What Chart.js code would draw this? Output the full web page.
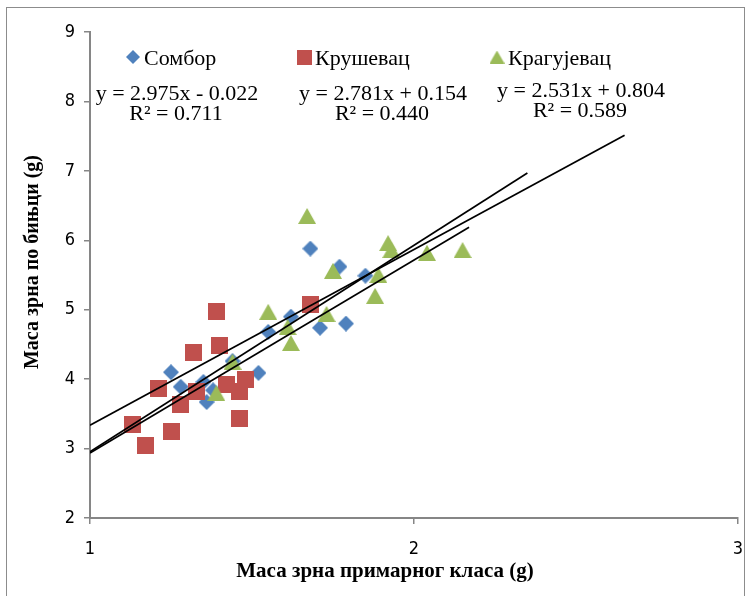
<!DOCTYPE html>
<html>
<head>
<meta charset="utf-8">
<script src="https://cdn.jsdelivr.net/npm/chart.js@4/dist/chart.umd.min.js"></script>
<style>
  html, body { margin: 0; padding: 0; background: #fff; }
  #wrap { width: 750px; height: 596px; position: relative; }
</style>
</head>
<body>
<div id="wrap"><canvas id="c"></canvas></div>
<script>
// Series names (legend order)
const seriesNames = ['Сомбор', 'Крушевац', 'Крагујевац'];

// Сомбор
const somborX = [1.25, 1.28, 1.35, 1.38, 1.36, 1.44, 1.52, 1.55, 1.62, 1.68, 1.71, 1.77, 1.79, 1.85];
const somborY = [4.10, 3.89, 3.96, 3.84, 3.67, 4.26, 4.09, 4.68, 4.90, 5.88, 4.74, 5.62, 4.80, 5.49];

// Крушевац
const krusevacX = [1.13, 1.17, 1.21, 1.25, 1.28, 1.32, 1.33, 1.39, 1.40, 1.42, 1.46, 1.46, 1.48, 1.68];
const krusevacY = [3.34, 3.04, 3.86, 3.25, 3.64, 4.38, 3.82, 4.97, 4.48, 3.92, 3.82, 3.43, 4.00, 5.08];

// Крагујевац
const kragujevacX = [1.39, 1.44, 1.55, 1.61, 1.62, 1.67, 1.73, 1.75, 1.88, 1.89, 1.92, 1.93, 2.04, 2.15];
const kragujevacY = [3.80, 4.25, 4.97, 4.75, 4.52, 6.35, 4.94, 5.56, 5.20, 5.50, 5.96, 5.86, 5.82, 5.86];

// Linear trend lines: y = slope * x + intercept
const trendSlope = [2.975, 2.781, 2.531];
const trendIntercept = [-0.022, 0.154, 0.804];
const trendRSquared = [0.711, 0.440, 0.589];
const trendXStart = [1, 1, 1];
const trendXEnd = [2.35, 2.17, 2.65];

// Axis ranges / ticks
const xTicks = [1, 2, 3];
const yTicks = [2, 3, 4, 5, 6, 7, 8, 9];

const colors = ['#4F81BD', '#C0504D', '#9BBB59'];

function toPoints(xs, ys) { return xs.map((x, i) => ({ x: x, y: ys[i] })); }

// Marker images, centred on their bounding box
function markerCanvas(shape, color, w, h) {
  const c = document.createElement('canvas');
  c.width = w; c.height = h;
  const g = c.getContext('2d');
  g.fillStyle = color;
  g.beginPath();
  if (shape === 'diamond') {
    g.moveTo(w / 2, 0); g.lineTo(w, h / 2); g.lineTo(w / 2, h); g.lineTo(0, h / 2);
  } else if (shape === 'square') {
    g.rect(0, 0, w, h);
  } else {
    g.moveTo(w / 2, 0); g.lineTo(w, h); g.lineTo(0, h);
  }
  g.closePath();
  g.fill();
  return c;
}

const pointMarkers = [
  markerCanvas('diamond', colors[0], 16, 16),
  markerCanvas('square', colors[1], 17, 17),
  markerCanvas('triangle', colors[2], 18, 16)
];
const legendMarkers = [
  markerCanvas('diamond', colors[0], 14, 14),
  markerCanvas('square', colors[1], 15, 15),
  markerCanvas('triangle', colors[2], 15, 13)
];

function fmtEq(i) {
  const b = trendIntercept[i];
  const sign = b < 0 ? ' - ' : ' + ';
  return 'y = ' + trendSlope[i].toFixed(3) + 'x' + sign + Math.abs(b).toFixed(3);
}
function fmtR2(i) { return 'R² = ' + trendRSquared[i].toFixed(3); }

const trendData = trendSlope.map((m, i) => [
  { x: trendXStart[i], y: m * trendXStart[i] + trendIntercept[i] },
  { x: trendXEnd[i], y: m * trendXEnd[i] + trendIntercept[i] }
]);

// Frame, legend, equations and axis titles
const decorations = {
  id: 'decorations',
  beforeDraw(chart) {
    const ctx = chart.ctx;
    ctx.save();
    ctx.fillStyle = '#fff';
    ctx.fillRect(0, 0, chart.width, chart.height);
    ctx.strokeStyle = '#8c8c8c';
    ctx.lineWidth = 1;
    ctx.strokeRect(6.5, 7.5, 738, 600);
    ctx.restore();
  },
  afterDraw(chart) {
    const ctx = chart.ctx;
    ctx.save();
    ctx.fillStyle = '#000';
    ctx.textBaseline = 'alphabetic';

    // legend
    const legendMarkerCx = [133, 304, 497];
    const legendTextX = [144, 315, 508];
    ctx.font = '22px "Liberation Serif", "Times New Roman", serif';
    ctx.textAlign = 'left';
    for (let i = 0; i < 3; i++) {
      const m = legendMarkers[i];
      ctx.drawImage(m, legendMarkerCx[i] - m.width / 2, 57 - m.height / 2);
      ctx.fillText(seriesNames[i], legendTextX[i], 65);
    }

    // trend equations
    const eqCx = [177, 383, 581];
    const eqBase = [100, 100, 97];
    ctx.textAlign = 'center';
    for (let i = 0; i < 3; i++) {
      ctx.fillText(fmtEq(i), eqCx[i], eqBase[i]);
      ctx.fillText(fmtR2(i), eqCx[i] - 1, eqBase[i] + 20);
    }

    // axis titles
    ctx.textBaseline = 'middle';
    ctx.font = 'bold 21px "Liberation Serif", "Times New Roman", serif';
    ctx.fillText('Маса зрна примарног класа (g)', 385, 572);
    ctx.font = 'bold 20px "Liberation Serif", "Times New Roman", serif';
    ctx.translate(33, 262);
    ctx.rotate(-Math.PI / 2);
    ctx.fillText('Маса зрна по бињци (g)', 0, 0);
    ctx.restore();
  }
};

const datasets = [];
// trend lines on top
for (let i = 0; i < 3; i++) {
  datasets.push({
    type: 'line',
    label: 'trend ' + seriesNames[i],
    data: trendData[i],
    borderColor: '#000',
    borderWidth: 1.7,
    pointRadius: 0,
    fill: false,
    order: 0
  });
}
const pointData = [toPoints(somborX, somborY), toPoints(krusevacX, krusevacY), toPoints(kragujevacX, kragujevacY)];
for (let i = 0; i < 3; i++) {
  datasets.push({
    type: 'scatter',
    label: seriesNames[i],
    data: pointData[i],
    pointStyle: pointMarkers[i],
    backgroundColor: colors[i],
    borderColor: colors[i],
    order: 3 - i
  });
}

const axisColor = '#868686';
const tickFont = { family: '"Liberation Sans Narrow", "DejaVu Sans Condensed", "Liberation Sans", sans-serif', size: 18 };

new Chart(document.getElementById('c'), {
  type: 'scatter',
  data: { datasets: datasets },
  options: {
    responsive: true,
    maintainAspectRatio: false,
    animation: false,
    layout: { padding: { left: 0, right: 12, top: 32, bottom: 0 } },
    plugins: { legend: { display: false }, tooltip: { enabled: false } },
    scales: {
      x: {
        type: 'linear',
        min: xTicks[0],
        max: xTicks[xTicks.length - 1],
        afterBuildTicks(scale) { scale.ticks = xTicks.map(v => ({ value: v })); },
        afterFit(scale) { scale.height = 78; scale.paddingLeft = 0; scale.paddingRight = 0; },
        grid: { drawOnChartArea: false, drawTicks: true, tickLength: 6, color: axisColor, lineWidth: 1.5 },
        border: { display: true, color: axisColor, width: 2 },
        ticks: { color: '#000', font: tickFont, padding: 15, maxRotation: 0 }
      },
      y: {
        type: 'linear',
        min: yTicks[0],
        max: yTicks[yTicks.length - 1],
        afterBuildTicks(scale) { scale.ticks = yTicks.map(v => ({ value: v })); },
        afterFit(scale) { scale.width = 90; scale.paddingTop = 0; scale.paddingBottom = 0; },
        grid: { drawOnChartArea: false, drawTicks: true, tickLength: 6, color: axisColor, lineWidth: 1.5 },
        border: { display: true, color: axisColor, width: 2 },
        ticks: { color: '#000', font: tickFont, padding: 9 }
      }
    }
  },
  plugins: [decorations]
});
</script>
</body>
</html>
